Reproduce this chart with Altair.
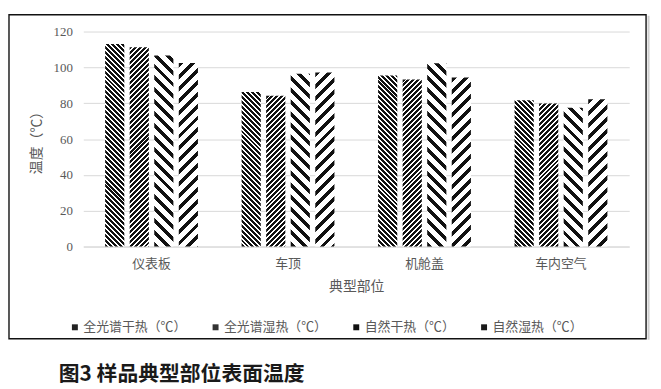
import math
import altair as alt
import pandas as pd

parts = ["仪表板", "车顶", "机舱盖", "车内空气"]
series = ["全光谱干热（℃）", "全光谱湿热（℃）", "自然干热（℃）", "自然湿热（℃）"]
s_full_dry = [113.0, 86.3, 95.5, 81.7]
s_full_wet = [111.2, 84.1, 93.3, 79.8]
s_nat_dry = [106.6, 96.4, 102.3, 77.4]
s_nat_wet = [102.5, 97.2, 94.4, 82.2]
y_ticks = [0, 20, 40, 60, 80, 100, 120]
caption = "图3 样品典型部位表面温度"

values = [s_full_dry, s_full_wet, s_nat_dry, s_nat_wet]
rows = []
for j, s in enumerate(series):
    for i, p in enumerate(parts):
        rows.append({"part": p, "series": s, "value": values[j][i]})
df = pd.DataFrame(rows)

# layout (plot area)
W, H, YMAX = 551, 217, 120
PI_X, PO_X, PI_OFF = 0.32, 0.16, 0.22
step = W / (len(parts) - PI_X + 2 * PO_X)
band = step * (1 - PI_X)
off_step = band / (len(series) - PI_OFF)
bar_w = off_step * (1 - PI_OFF)

# hatch styles: direction, horizontal period (px), ink width (px)
styles = [("back", 5.0, 3.0), ("fwd", 5.0, 3.0), ("back", 12.0, 5.0), ("fwd", 12.0, 5.0)]


def hatch(w, h, direction, hperiod, ink_px, ink="#111111", paper="#ffffff"):
    period = hperiod / math.sqrt(2)
    frac = ink_px / hperiod
    r = w / h
    b = (r + 1) / (r * r + 1)
    a = r * b
    span = (w + h) / math.sqrt(2)
    d = period / span
    stops = []
    k = 0
    while k * d < 1:
        o0 = k * d
        o1 = min(1.0, o0 + frac * d)
        o2 = min(1.0, o0 + d)
        stops += [
            {"offset": o0, "color": ink},
            {"offset": o1, "color": ink},
            {"offset": o1, "color": paper},
            {"offset": o2, "color": paper},
        ]
        k += 1
    if direction == "fwd":
        g = {"gradient": "linear", "x1": 0, "y1": 0, "x2": a, "y2": b}
    else:
        g = {"gradient": "linear", "x1": 0, "y1": 1, "x2": a, "y2": 1 - b}
    g["stops"] = stops
    return g


conds = []
for j, s in enumerate(series):
    d, per, ink_px = styles[j]
    for i, p in enumerate(parts):
        h = values[j][i] * H / YMAX
        conds.append({
            "test": f"datum.part === '{p}' && datum.series === '{s}'",
            "value": hatch(bar_w, h, d, per, ink_px),
        })

LBL = "Liberation Serif, Noto Sans CJK SC"
CJK = "Noto Sans CJK SC"
GREY = "#595959"

bars = alt.Chart(df).mark_bar().encode(
    x=alt.X("part:N", sort=parts,
            scale=alt.Scale(paddingInner=PI_X, paddingOuter=PO_X),
            axis=alt.Axis(title="典型部位", labelAngle=0, ticks=False,
                          domainColor="#d9d9d9", labelPadding=11,
                          labelFont=CJK, labelFontSize=13, labelColor=GREY,
                          titleFont=CJK, titleFontSize=14, titleFontWeight="normal",
                          titleColor=GREY, titlePadding=9)),
    xOffset=alt.XOffset("series:N", sort=series,
                        scale=alt.Scale(paddingInner=PI_OFF, paddingOuter=0)),
    y=alt.Y("value:Q", stack=None,
            scale=alt.Scale(domain=[0, YMAX], nice=False),
            axis=alt.Axis(values=y_ticks, title="温度（℃）", grid=True,
                          gridColor="#d9d9d9", domain=False, ticks=False,
                          labelPadding=11, labelFont=LBL, labelFontSize=13,
                          labelColor=GREY, titleFont=CJK, titleFontSize=14,
                          titleFontWeight="normal", titleColor=GREY, titlePadding=10)),
    fill=alt.Fill("series:N",
                  scale=alt.Scale(domain=series, range=["#222222", "#333333", "#111111", "#1a1a1a"]),
                  legend=alt.Legend(title=None, orient="none", direction="horizontal",
                                    legendX=-15, legendY=292, symbolType="square",
                                    symbolSize=36, symbolStrokeWidth=0, labelOffset=2,
                                    columnPadding=22, gridAlign="none", labelFont=CJK,
                                    labelFontSize=13, labelColor=GREY),
                  condition=conds),
)

frame = alt.Chart(pd.DataFrame({"k": [0]})).mark_rect(
    fill="white", fillOpacity=0, stroke="#111111", strokeWidth=1.4
).encode(
    x=alt.value(-75), x2=alt.value(568), y=alt.value(-17), y2=alt.value(310)
)

shadow = alt.Chart(pd.DataFrame({"k": [0]})).mark_rule(
    stroke="#cfcfcf", strokeWidth=2
).encode(
    x=alt.value(570.5), y=alt.value(-16), y2=alt.value(311)
)

chart = alt.layer(frame, shadow, bars).properties(
    width=W, height=H,
    padding={"left": 0, "top": 4, "right": 3, "bottom": 0},
    background="white",
    title=alt.TitleParams(caption, orient="bottom", anchor="start", dx=51, offset=24,
                          font=CJK, fontSize=21, fontWeight="bold", color="#1a1a1a"),
).configure_view(stroke=None)

chart.save("out.html", embed_options={"renderer": "svg", "actions": False})
